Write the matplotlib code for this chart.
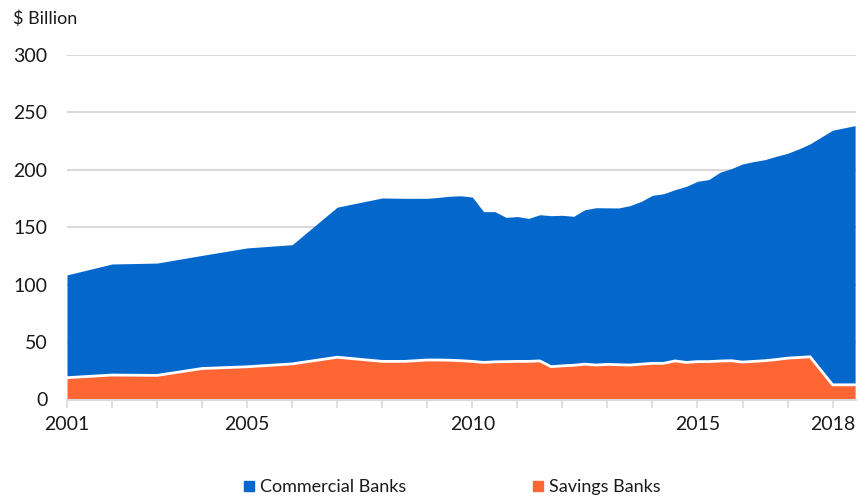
import matplotlib
matplotlib.use("Agg")
import matplotlib.pyplot as plt
from matplotlib.lines import Line2D

plt.rcParams['font.family'] = ['Lato', 'DejaVu Sans']

# annual points to 2008, then quarterly
years = [2001, 2002, 2003, 2004, 2005, 2006, 2007, 2008, 2008.5, 2009,
         2009.25, 2009.5, 2009.75, 2010, 2010.25, 2010.5, 2010.75, 2011,
         2011.25, 2011.5, 2011.75, 2012, 2012.25, 2012.5, 2012.75, 2013,
         2013.25, 2013.5, 2013.75, 2014, 2014.25, 2014.5, 2014.75, 2015,
         2015.25, 2015.5, 2015.75, 2016, 2016.25, 2016.5, 2016.75, 2017,
         2017.25, 2017.5, 2017.75, 2018, 2018.25, 2018.5]

savings = [19.0, 21.3, 21.0, 27.0, 28.5, 31.0, 36.8, 33.2, 33.2, 34.4,
           34.4, 34.2, 33.8, 33.2, 32.3, 32.8, 33.0, 33.2,
           33.2, 33.6, 28.6, 29.3, 29.8, 30.8, 30.0, 30.6,
           30.3, 30.0, 30.8, 31.5, 31.5, 33.6, 32.3, 33.0,
           33.0, 33.5, 33.8, 32.6, 33.2, 33.8, 34.8, 36.0,
           36.6, 37.2, 25.0, 12.8, 12.8, 12.8]

commercial = [89.5, 96.7, 97.8, 98.5, 103.5, 103.8, 130.7, 142.3, 142.0, 140.8,
              141.6, 142.8, 143.6, 143.1, 131.3, 130.8, 125.6, 126.1,
              124.5, 127.3, 131.5, 131.1, 129.7, 134.5, 137.0, 136.3,
              136.5, 138.8, 141.7, 146.3, 147.7, 149.1, 153.3, 157.0,
              158.5, 164.4, 167.2, 172.5, 174.0, 175.1, 177.0, 178.4,
              181.6, 185.4, 203.6, 221.7, 223.7, 225.7]

blue = '#0467CC'
orange = '#FF6633'
grid_c = '#d9d9d9'
text_c = '#1a1a1a'

fig = plt.figure(figsize=(8.58, 4.99), dpi=100)
ax = fig.add_axes([67/858, 1 - 399.5/499, (856 - 67)/858, (399.5 - 55)/499])

total = [s + c for s, c in zip(savings, commercial)]
ax.fill_between(years, savings, total, color=blue, linewidth=0, zorder=2)
ax.fill_between(years, 0, savings, color=orange, linewidth=0, zorder=3)
ax.plot(years, savings, color='white', linewidth=2, zorder=4)

ax.set_xlim(2001, 2018.52)
ax.set_ylim(0, 300)
ax.set_yticks([0, 50, 100, 150, 200, 250, 300])
ax.yaxis.grid(True, color=grid_c, linewidth=1.5)
ax.set_axisbelow(True)
ax.tick_params(axis='y', length=0, pad=14, labelsize=14, labelcolor=text_c)

ax.set_xticks(range(2001, 2019))
ax.set_xticklabels([str(y) if y in (2001, 2005, 2010, 2015, 2018) else ''
                    for y in range(2001, 2019)])
ax.tick_params(axis='x', length=6, width=1.2, color=grid_c, pad=6,
               labelsize=14, labelcolor=text_c)

for side in ('top', 'right', 'left'):
    ax.spines[side].set_visible(False)
ax.spines['bottom'].set_color(grid_c)
ax.spines['bottom'].set_linewidth(1.5)
ax.spines['bottom'].set_zorder(5)

fig.text(13/858, 1 - 19/499, '$ Billion', fontsize=13, color=text_c,
         ha='left', va='center')

handles = [Line2D([], [], marker='s', linestyle='none', markersize=7,
                  color=blue, label='Commercial Banks'),
           Line2D([], [], marker='s', linestyle='none', markersize=7,
                  color=orange, label='Savings Banks')]
fig.legend(handles=handles, loc='center', bbox_to_anchor=(452/858, 1 - 487/499),
           ncol=2, frameon=False, fontsize=13, handlelength=0.6,
           handletextpad=0.3, columnspacing=7.0, labelcolor=text_c)

fig.savefig('out.png', dpi=100)
